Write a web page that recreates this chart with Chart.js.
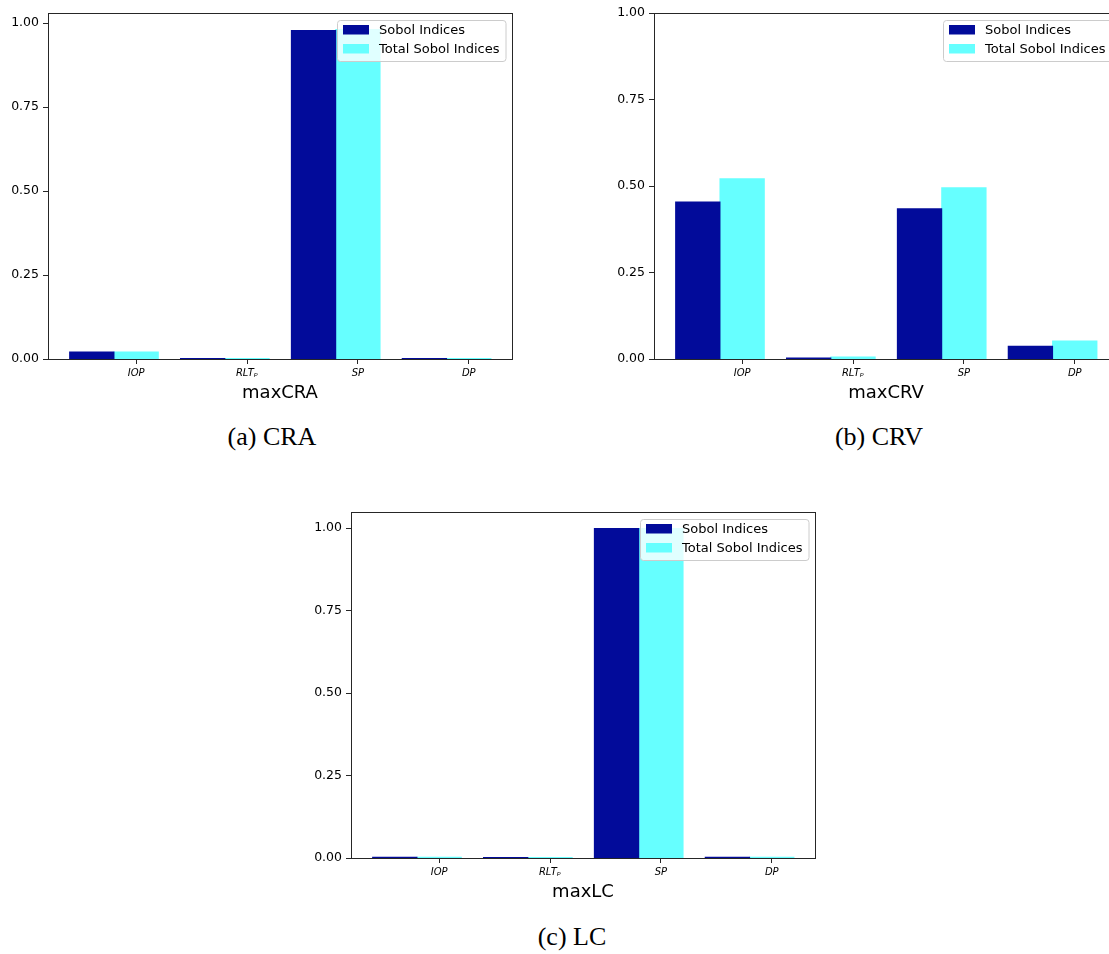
<!DOCTYPE html>
<html>
<head>
<meta charset="utf-8">
<script src="https://cdn.jsdelivr.net/npm/chart.js@4/dist/chart.umd.min.js"></script>
<style>
  html, body { margin: 0; padding: 0; background: #fff; }
  body { position: relative; width: 1109px; height: 954px; overflow: hidden; }
  canvas { position: absolute; }
  .cap { position: absolute; width: 300px; text-align: center; font-family: "Liberation Serif", serif; font-size: 26px; line-height: 30px; color: #000; }
</style>
</head>
<body>
<canvas id="craChart" width="520" height="410" style="left:0px; top:0px;"></canvas>
<canvas id="crvChart" width="520" height="410" style="left:606px; top:0px;"></canvas>
<canvas id="lcChart" width="520" height="410" style="left:303px; top:499px;"></canvas>
<div class="cap" style="left:122px; top:422px;">(a) CRA</div>
<div class="cap" style="left:729px; top:422px;">(b) CRV</div>
<div class="cap" style="left:422px; top:922px;">(c) LC</div>

<script>
// === DATA ===
const params = ["IOP", "RLTₚ", "SP", "DP"];
const yTicks = [0, 0.25, 0.5, 0.75, 1.0];

// maxCRA
const craSobol = [0.021, 0.001, 0.978, 0.001];
const craTotal = [0.021, 0.001, 0.981, 0.001];

// maxCRV
const crvSobol = [0.454, 0.003, 0.434, 0.037];
const crvTotal = [0.521, 0.006, 0.495, 0.052];

// maxLC
const lcSobol = [0.002, 0.001, 0.999, 0.002];
const lcTotal = [0.002, 0.001, 0.999, 0.002];

const DARK = "#020b9a";
const CYAN = "#66ffff";
const BAR_SHIFT = -0.2; // pair sits left of the tick, like x - w/2 in matplotlib

Chart.defaults.font.family = "'DejaVu Sans', sans-serif";
Chart.defaults.color = "#000";

// axes box (all four spines)
const frame = {
  id: "frame",
  afterDatasetsDraw(chart) {
    const { ctx, chartArea: a } = chart;
    ctx.save();
    ctx.strokeStyle = "#262626";
    ctx.lineWidth = 1;
    ctx.strokeRect(Math.round(a.left) + 0.5, Math.round(a.top) + 0.5,
      Math.round(a.right - a.left), Math.round(a.bottom - a.top));
    ctx.restore();
  }
};

// legend drawn inside the plot, upper right
const insideLegend = {
  id: "insideLegend",
  afterDatasetsDraw(chart) {
    const { ctx, chartArea } = chart;
    const sets = chart.data.datasets;
    ctx.save();
    ctx.font = "13px 'DejaVu Sans'";
    const textW = Math.max(...sets.map(d => ctx.measureText(d.label).width));
    const w = 42 + textW + 6;
    const h = 41;
    const x = Math.round(chartArea.right - 6 - w);
    const y = Math.round(chartArea.top + 7);
    ctx.fillStyle = "rgba(255,255,255,0.8)";
    ctx.strokeStyle = "#cccccc";
    ctx.lineWidth = 1;
    ctx.beginPath();
    ctx.roundRect(x + 0.5, y + 0.5, w, h, 3);
    ctx.fill();
    ctx.stroke();
    sets.forEach((d, i) => {
      const cy = y + 10 + i * 19;
      ctx.fillStyle = d.backgroundColor;
      ctx.fillRect(x + 6, cy - 5, 26, 9.5);
      ctx.fillStyle = "#000";
      ctx.textBaseline = "middle";
      ctx.fillText(d.label, x + 42, cy + 0.5);
    });
    ctx.restore();
  }
};

function makeChart(id, sobol, total, title, yMax) {
  new Chart(document.getElementById(id), {
    type: "bar",
    data: {
      datasets: [
        {
          label: "Sobol Indices",
          data: sobol.map((v, i) => ({ x: i + BAR_SHIFT, y: v })),
          backgroundColor: DARK,
          borderWidth: 0,
          inflateAmount: 0.5
        },
        {
          label: "Total Sobol Indices",
          data: total.map((v, i) => ({ x: i + BAR_SHIFT, y: v })),
          backgroundColor: CYAN,
          borderWidth: 0,
          inflateAmount: 0.5
        }
      ]
    },
    options: {
      responsive: false,
      animation: false,
      devicePixelRatio: 1,
      categoryPercentage: 0.8,
      barPercentage: 1.0,
      layout: { padding: { left: 0, top: 13, right: 8, bottom: 0 } },
      plugins: { legend: { display: false }, tooltip: { enabled: false } },
      scales: {
        x: {
          type: "linear",
          offset: false,
          min: -0.795,
          max: 3.39,
          afterBuildTicks: s => { s.ticks = params.map((p, i) => ({ value: i })); },
          afterFit: s => { s.height = 51; },
          ticks: {
            autoSkip: false,
            maxRotation: 0,
            padding: 3,
            font: { size: 10, style: "italic" },
            callback: v => params[v]
          },
          grid: { offset: false, drawOnChartArea: false, drawTicks: true, tickLength: 5, color: "#262626" },
          border: { display: false },
          title: { display: true, text: title, font: { size: 18 }, padding: { top: 0, bottom: 6 } }
        },
        y: {
          min: 0,
          max: yMax,
          afterBuildTicks: s => { s.ticks = yTicks.map(v => ({ value: v })); },
          afterFit: s => { s.width = 48; },
          ticks: {
            padding: 4,
            font: { size: 12.5 },
            callback: v => Number(v).toFixed(2)
          },
          grid: { drawOnChartArea: false, drawTicks: true, tickLength: 5, color: "#262626" },
          border: { display: false }
        }
      }
    },
    plugins: [frame, insideLegend]
  });
}

makeChart("craChart", craSobol, craTotal, "maxCRA", Math.max(...craSobol, ...craTotal) * 1.05);
makeChart("crvChart", crvSobol, crvTotal, "maxCRV", 1.0);
makeChart("lcChart", lcSobol, lcTotal, "maxLC", Math.max(...lcSobol, ...lcTotal) * 1.05);
</script>
</body>
</html>
